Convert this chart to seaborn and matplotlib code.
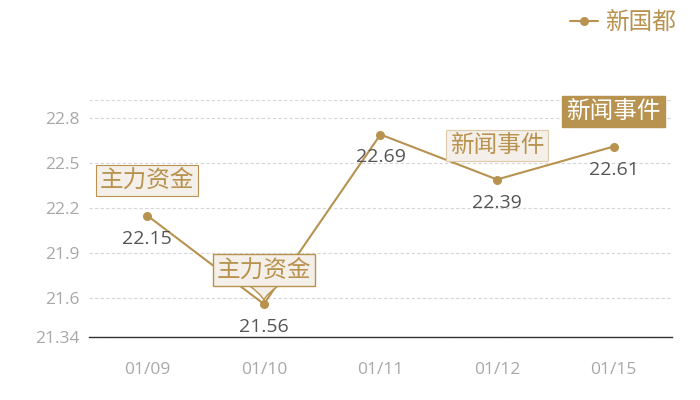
import matplotlib
matplotlib.use("Agg")
import matplotlib.pyplot as plt
import seaborn as sns
import pandas as pd

dates = ["01/09", "01/10", "01/11", "01/12", "01/15"]
prices = [22.15, 21.56, 22.69, 22.39, 22.61]
series_name = "新国都"
yticks = [21.34, 21.6, 21.9, 22.2, 22.5, 22.8]
ytick_labels = ["21.34", "21.6", "21.9", "22.2", "22.5", "22.8"]
event_dates = ["01/09", "01/10", "01/12", "01/15"]
event_texts = ["主力资金", "主力资金", "新闻事件", "新闻事件"]

sns.set_theme(style="white")
plt.rcParams['font.family'] = ['Noto Sans CJK SC', 'DejaVu Sans']

GOLD = "#b8924f"
GRID = "#d6d6d6"
TICK = "#a8a8a8"
LABEL = "#555555"
BOXFC = "#f4efe8"
NUMFONT = ['Open Sans', 'DejaVu Sans']

df = pd.DataFrame({"date": dates, "price": prices})
fig = plt.figure(figsize=(7, 4), dpi=100)
ax = fig.add_axes([0.127, 0.1575, 0.833, 0.5925])

sns.lineplot(data=df, x="date", y="price", ax=ax, color=GOLD, marker="o",
             markersize=6.5, markeredgewidth=0, linewidth=1.5, label=series_name,
             sort=False)

ax.set_xlim(-0.5, len(dates) - 0.5)
ax.set_ylim(21.34, 22.92)
ax.set_yticks(yticks + [22.92])
ax.set_yticklabels(ytick_labels + [""])
ax.grid(axis="y", color=GRID, linestyle=(0, (3, 2)), linewidth=0.8)
ax.grid(axis="x", visible=False)
for s in ["top", "right", "left"]:
    ax.spines[s].set_visible(False)
ax.spines["bottom"].set_color("#333333")
ax.spines["bottom"].set_linewidth(1.0)
ax.tick_params(axis="x", length=0, pad=18, labelsize=12.5, labelcolor=TICK)
ax.tick_params(axis="y", length=0, pad=7, labelsize=12.5, labelcolor=TICK)
for lab in ax.get_xticklabels() + ax.get_yticklabels():
    lab.set_family(NUMFONT)
ax.set_xlabel("")
ax.set_ylabel("")

# value labels
for i, v in enumerate(prices):
    ax.annotate(f"{v:.2f}", xy=(i, v), xytext=(0, -23), textcoords="offset pixels",
                ha="center", va="center", fontsize=14, color=LABEL, family=NUMFONT)

# event boxes
offsets = {"01/09": (0, 35), "01/10": (0, 34), "01/12": (0, 34), "01/15": (0, 35)}
for d, t in zip(event_dates, event_texts):
    idx = dates.index(d)
    v = prices[idx]
    dx, dy = offsets[d]
    if d == "01/15":
        ax.annotate(t, xy=(idx, v), xytext=(dx, dy), textcoords="offset pixels",
                    ha="center", va="center", fontsize=17, color="white",
                    bbox=dict(boxstyle="square,pad=0.17", fc=GOLD, ec=GOLD), zorder=5)
    elif d == "01/10":
        ax.annotate(t, xy=(idx, v), xytext=(dx, dy), textcoords="offset pixels",
                    ha="center", va="center", fontsize=17, color=GOLD,
                    bbox=dict(boxstyle="square,pad=0.17", fc=BOXFC, ec=GOLD, lw=1),
                    arrowprops=dict(arrowstyle="wedge,tail_width=1.2,shrink_factor=0.4",
                                    fc=BOXFC, ec=GOLD, lw=1, shrinkB=3, shrinkA=0),
                    zorder=5)
    else:
        ec = GOLD if d == "01/09" else "#dfcbaa"
        ax.annotate(t, xy=(idx, v), xytext=(dx, dy), textcoords="offset pixels",
                    ha="center", va="center", fontsize=17, color=GOLD,
                    bbox=dict(boxstyle="square,pad=0.17", fc=BOXFC, ec=ec, lw=0.8),
                    zorder=5)

ax.get_legend().remove()
leg = fig.legend(loc="upper right", bbox_to_anchor=(0.993, 1.02), frameon=False,
                 fontsize=17, handlelength=1.2, handletextpad=0.3, borderpad=0.3)
for txt in leg.get_texts():
    txt.set_color(GOLD)

fig.savefig("out.png", dpi=100)
